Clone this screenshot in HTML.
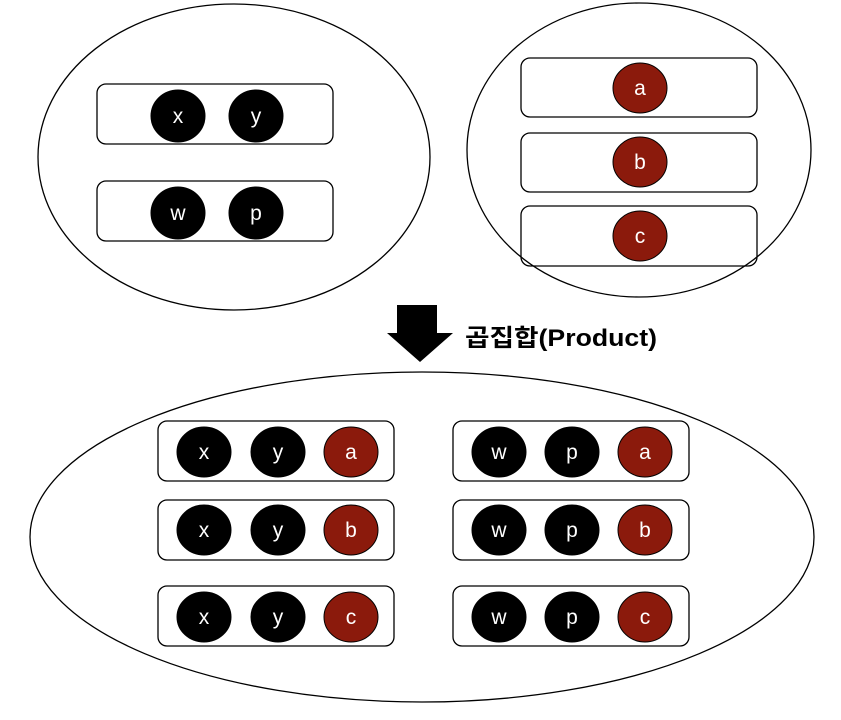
<!DOCTYPE html>
<html><head><meta charset="utf-8"><style>body{margin:0;background:#fff}</style></head><body>
<svg width="841" height="715" xmlns="http://www.w3.org/2000/svg" font-family="Liberation Sans, sans-serif">
<g fill="none" stroke="#000" stroke-width="1.3">
<ellipse cx="234" cy="157" rx="196" ry="153"/>
<ellipse cx="639" cy="150" rx="172" ry="147"/>
<ellipse cx="422" cy="537" rx="392" ry="165"/>
<rect x="97" y="84" width="236" height="60" rx="9"/>
<rect x="97" y="181" width="236" height="60" rx="9"/>
<rect x="521" y="58" width="236" height="59" rx="9"/>
<rect x="521" y="133" width="236" height="59" rx="9"/>
<rect x="521" y="206" width="236" height="60" rx="9"/>
<rect x="158" y="421" width="236" height="60" rx="9"/>
<rect x="158" y="500" width="236" height="60" rx="9"/>
<rect x="158" y="586" width="236" height="60" rx="9"/>
<rect x="453" y="421" width="236" height="60" rx="9"/>
<rect x="453" y="500" width="236" height="60" rx="9"/>
<rect x="453" y="586" width="236" height="60" rx="9"/>
</g>
<g stroke="#000" stroke-width="1">
<ellipse cx="178" cy="116" rx="27" ry="26" fill="#000"/>
<ellipse cx="256" cy="116" rx="27" ry="26" fill="#000"/>
<ellipse cx="178" cy="213" rx="27" ry="26" fill="#000"/>
<ellipse cx="256" cy="213" rx="27" ry="26" fill="#000"/>
<ellipse cx="640" cy="88" rx="27" ry="25" fill="#8b1a0c"/>
<ellipse cx="640" cy="162" rx="27" ry="25" fill="#8b1a0c"/>
<ellipse cx="640" cy="236" rx="27" ry="25" fill="#8b1a0c"/>
<ellipse cx="204" cy="452" rx="27" ry="25" fill="#000"/>
<ellipse cx="278" cy="452" rx="27" ry="25" fill="#000"/>
<ellipse cx="351" cy="452" rx="27" ry="25" fill="#8b1a0c"/>
<ellipse cx="204" cy="530" rx="27" ry="25" fill="#000"/>
<ellipse cx="278" cy="530" rx="27" ry="25" fill="#000"/>
<ellipse cx="351" cy="530" rx="27" ry="25" fill="#8b1a0c"/>
<ellipse cx="204" cy="617" rx="27" ry="25" fill="#000"/>
<ellipse cx="278" cy="617" rx="27" ry="25" fill="#000"/>
<ellipse cx="351" cy="617" rx="27" ry="25" fill="#8b1a0c"/>
<ellipse cx="499" cy="452" rx="27" ry="25" fill="#000"/>
<ellipse cx="572" cy="452" rx="27" ry="25" fill="#000"/>
<ellipse cx="645" cy="452" rx="27" ry="25" fill="#8b1a0c"/>
<ellipse cx="499" cy="530" rx="27" ry="25" fill="#000"/>
<ellipse cx="572" cy="530" rx="27" ry="25" fill="#000"/>
<ellipse cx="645" cy="530" rx="27" ry="25" fill="#8b1a0c"/>
<ellipse cx="499" cy="617" rx="27" ry="25" fill="#000"/>
<ellipse cx="572" cy="617" rx="27" ry="25" fill="#000"/>
<ellipse cx="645" cy="617" rx="27" ry="25" fill="#8b1a0c"/>
</g>
<g fill="#fff" font-size="21" text-anchor="middle">
<text x="178" y="123">x</text><text x="256" y="123">y</text>
<text x="178" y="220">w</text><text x="256" y="220">p</text>
<text x="640" y="95">a</text><text x="640" y="169">b</text><text x="640" y="243">c</text>
<text x="204" y="459">x</text><text x="278" y="459">y</text><text x="351" y="459">a</text>
<text x="204" y="537">x</text><text x="278" y="537">y</text><text x="351" y="537">b</text>
<text x="204" y="624">x</text><text x="278" y="624">y</text><text x="351" y="624">c</text>
<text x="499" y="459">w</text><text x="572" y="459">p</text><text x="645" y="459">a</text>
<text x="499" y="537">w</text><text x="572" y="537">p</text><text x="645" y="537">b</text>
<text x="499" y="624">w</text><text x="572" y="624">p</text><text x="645" y="624">c</text>
</g>
<polygon points="397,305 437,305 437,333 453,333 420,362 387,333 397,333" fill="#000"/>
<text x="465" y="346" font-size="24" font-weight="bold" textLength="192" lengthAdjust="spacingAndGlyphs" font-family="Liberation Sans, Noto Sans CJK KR, sans-serif">곱집합(Product)</text>
</svg>
</body></html>
